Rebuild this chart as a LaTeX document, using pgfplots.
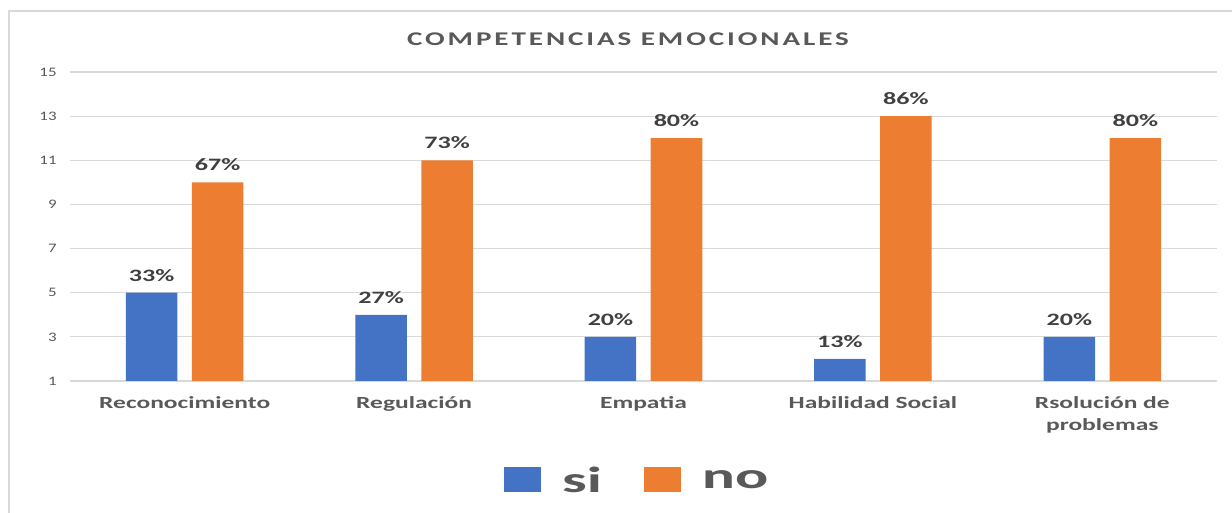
\documentclass[border=0pt]{standalone}
\usepackage{fontspec}
\setmainfont{Carlito}
\newfontfamily\tickfont{Carlito}[FakeStretch=1.3]
\newfontfamily\catfont{Carlito}[FakeStretch=1.5]
\newfontfamily\titlefont{Carlito}[FakeStretch=1.5,LetterSpace=15]
\newfontfamily\legfont{Carlito}[FakeStretch=1.7]
\usepackage{pgfplots}
\pgfplotsset{compat=1.18}
\definecolor{siblue}{HTML}{4472C4}
\definecolor{noorange}{HTML}{ED7D31}
\definecolor{txtgray}{HTML}{595959}
\definecolor{lblgray}{HTML}{404040}
\definecolor{gridgray}{HTML}{D9D9D9}
\pgfplotsset{
  sqlegend/.style={legend image code/.code={%
    \path[draw=none, fill=none] (0pt,-5.5pt) -- (0pt,18pt);
    \fill[##1, draw=none] (0pt,-5.5pt) rectangle (18.8pt,7pt);}},
}

\begin{document}
\begin{tikzpicture}
\begin{axis}[
  scale only axis, width=573.5pt, height=154.5pt,
  ybar=7.25pt, bar width=25.75pt,
  xmin=-0.5, xmax=4.5, ymin=1, ymax=15,
  xtick=data,
  xticklabels={Reconocimiento, Regulación, Empatia, Habilidad Social, {Rsolución de\\problemas}},
  ytick={1,3,...,15},
  axis line style={draw=none},
  major tick length=0pt,
  ymajorgrids, grid style={gridgray, line width=0.6pt},
  tick label style={text=txtgray},
  /pgf/number format/assume math mode=true,
  yticklabel style={font=\tickfont\fontsize{6.5}{8}\selectfont, anchor=east, inner sep=0pt, xshift=-6.5pt},
  xticklabel style={font=\catfont\bfseries\fontsize{8.5}{11}\selectfont, align=center, anchor=north, inner sep=0pt, yshift=-7.5pt},
  nodes near coords,
  point meta=explicit symbolic,
  every node near coord/.append style={font=\catfont\bfseries\fontsize{8.7}{10}\selectfont, text=lblgray, anchor=south, inner sep=0pt, yshift=5.5pt},
  legend columns=2,
  legend style={draw=none, fill=none, at={(0.4935,-0.288)}, anchor=center,
    font=\legfont\bfseries\fontsize{18.2}{20}\selectfont, text=txtgray,
    nodes={inner sep=0pt},
    /tikz/every odd column/.append style={column sep=10.4pt},
    /tikz/every even column/.append style={column sep=20.8pt}},
]
\addplot[fill=siblue, draw=none, sqlegend]
  coordinates {(0,5) [33\%] (1,4) [27\%] (2,3) [20\%] (3,2) [13\%] (4,3) [20\%]};
\addplot[fill=noorange, draw=none, sqlegend]
  coordinates {(0,10) [67\%] (1,11) [73\%] (2,12) [80\%] (3,13) [86\%] (4,12) [80\%]};
\legend{si, no}
\end{axis}
\node[font=\titlefont\bfseries\fontsize{9.7}{12}\selectfont, text=txtgray, inner sep=0pt] at (279pt,171pt) {COMPETENCIAS EMOCIONALES};
\draw[gridgray, line width=0.75pt] (-30.5pt,-66pt) -- (-30.5pt,185pt) -- (581pt,185pt);
\pgfresetboundingbox
\path (-35pt,-66pt) rectangle (581pt,190.5pt);
\end{tikzpicture}
\end{document}
